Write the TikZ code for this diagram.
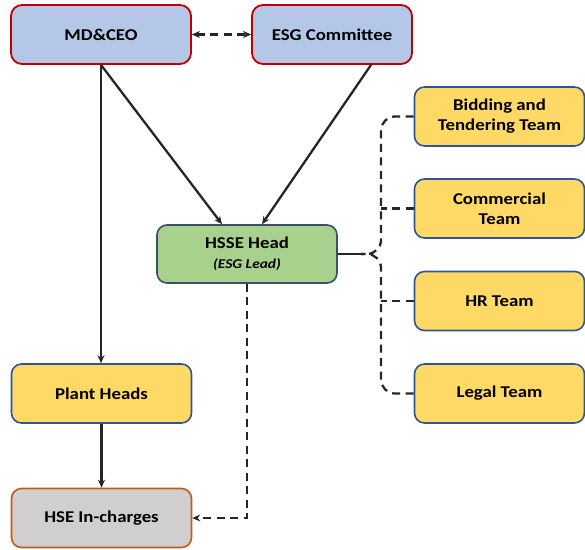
\documentclass[tikz,border=0pt]{standalone}
\usepackage{fontspec}
\setmainfont{Carlito}[FakeStretch=1.14]
\usetikzlibrary{arrows.meta,positioning}
\definecolor{topfill}{HTML}{B4C7E7}
\definecolor{topdraw}{HTML}{C00000}
\definecolor{leadfill}{HTML}{A9D18E}
\definecolor{leaddraw}{HTML}{3B4F66}
\definecolor{teamfill}{HTML}{FFD966}
\definecolor{teamdraw}{HTML}{2F5597}
\definecolor{sitefill}{HTML}{D0CECE}
\definecolor{sitedraw}{HTML}{C55A11}

\begin{document}
\begin{tikzpicture}[
    x=1pt, y=-1pt,
    every node/.style={font=\bfseries\fontsize{16.5}{20}\selectfont},
    topbox/.style={rectangle, draw=topdraw, fill=topfill, rounded corners=11pt, line width=1.8pt, minimum width=180pt, minimum height=59pt, align=center},
    leadbox/.style={rectangle, draw=leaddraw, fill=leadfill, rounded corners=10pt, line width=1.6pt, minimum width=180pt, minimum height=58pt, align=center},
    teambox/.style={rectangle, draw=teamdraw, fill=teamfill, rounded corners=10pt, line width=1.6pt, minimum width=170pt, minimum height=59pt, align=center},
    sitebox/.style={rectangle, draw=sitedraw, fill=sitefill, rounded corners=10pt, line width=1.6pt, minimum width=180pt, minimum height=59pt, align=center},
    arrow/.style={-{Stealth[length=8pt,width=7pt]}, line width=2.3pt, draw=black!85},
    dashline/.style={line width=2.3pt, draw=black!85, dash pattern=on 8pt off 5.5pt},
    dasharrow/.style={dashline, -{Stealth[length=8pt,width=7pt]}}
]
\useasboundingbox (0,0) rectangle (585,549);

% Nodes
\node[topbox] (ceo) at (101,34.5) {MD\&CEO};
\node[topbox, minimum width=160pt] (esg) at (332,34.5) {ESG Committee};
\node[leadbox] (hsse) at (247,254) {HSSE Head\\{\fontsize{13.5}{15}\selectfont\itshape (ESG Lead)}};
\node[teambox] (bid) at (499.5,116.5) {Bidding and\\Tendering Team};
\node[teambox] (com) at (499.5,208.5) {Commercial\\Team};
\node[teambox] (hr) at (499.5,301) {HR Team};
\node[teambox] (legal) at (499.5,393.5) {Legal Team};
\node[teambox, minimum width=180pt] (plant) at (101.5,393.5) {Plant Heads};
\node[sitebox] (hse) at (101.5,518) {HSE In-charges};

\coordinate (split) at ([xshift=23pt]hsse.east);
\coordinate (spine) at (381,254);

% Edges
\draw[dasharrow, {Stealth[length=8pt,width=7pt]}-{Stealth[length=8pt,width=7pt]}] (ceo) -- (esg);
\draw[arrow] (ceo.south) -- (ceo.south |- plant.north);
\draw[arrow] (ceo.south) -- ([xshift=-25pt]hsse.north);
\draw[arrow] ([xshift=39pt]esg.south) -- ([xshift=15pt]hsse.north);
\draw[arrow] (plant) -- (hse);
\draw[dasharrow] (hsse.south) |- (hse.east);

% team bracket
\draw[line width=1.2pt, black!85] (hsse.east) -- (split);
\draw[dashline, rounded corners=14pt] (bid.west) -| (spine) -- (split);
\draw[dashline, rounded corners=14pt] (legal.west) -| (spine) -- (split);
\draw[dashline] (com.west) -- (com.west -| spine);
\draw[dashline] (hr.west) -- (hr.west -| spine);

\end{tikzpicture}
\end{document}
